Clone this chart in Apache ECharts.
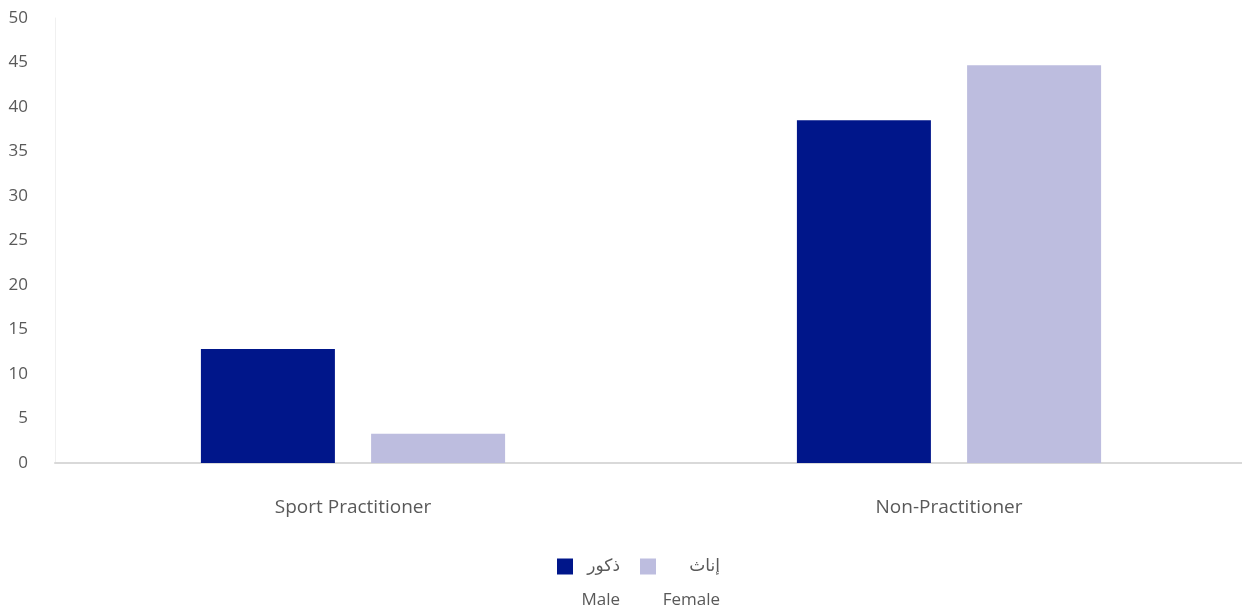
<!DOCTYPE html>
<html>
<head>
<meta charset="utf-8">
<script src="https://cdn.jsdelivr.net/npm/echarts@6/dist/echarts.min.js"></script>
<style>
html,body{margin:0;padding:0;background:#fff;}
#main{width:1242px;height:612px;}
</style>
</head>
<body>
<div id="main"></div>
<script>
const categories = ['Sport Practitioner', 'Non-Practitioner'];
const seriesNamesAr = ['ذكور', 'إناث'];
const seriesNamesEn = ['Male', 'Female'];
const maleValues = [12.8, 38.5];
const femaleValues = [3.3, 44.7];
const yTicks = { min: 0, max: 50, interval: 5 };

const colors = ['#00168A', '#BDBDDF'];
const FONT = '"Open Sans", "DejaVu Sans", sans-serif';
const textColor = '#595959';

const enMap = {};
seriesNamesAr.forEach((n, i) => enMap[n] = seriesNamesEn[i]);

const richStyles = {
  m: { width: 42, align: 'right', fontSize: 17, color: textColor, fontFamily: FONT },
  f: { width: 59, align: 'right', fontSize: 17, color: textColor, fontFamily: FONT }
};
function styleKey(name) { return name === seriesNamesAr[0] ? 'm' : 'f'; }

const chart = echarts.init(document.getElementById('main'), null, { renderer: 'canvas' });
chart.setOption({
  animation: false,
  color: colors,
  grid: { left: 55, right: -5, top: 18, bottom: 149, outerBoundsMode: 'none', containLabel: false },
  legend: [
    {
      data: seriesNamesAr,
      left: 552, top: 553,
      itemWidth: 16, itemHeight: 16, itemGap: 20,
      icon: 'rect',
      formatter: name => '{' + styleKey(name) + '|' + name + '}',
      textStyle: { fontSize: 17, color: textColor, fontFamily: FONT, rich: richStyles }
    },
    {
      data: seriesNamesAr,
      left: 552, top: 587,
      itemWidth: 16, itemHeight: 16, itemGap: 20,
      icon: 'rect',
      selectedMode: false,
      itemStyle: { opacity: 0 },
      formatter: name => '{' + styleKey(name) + '|' + enMap[name] + '}',
      textStyle: { fontSize: 17, color: textColor, fontFamily: FONT, rich: richStyles }
    }
  ],
  xAxis: {
    type: 'category',
    data: categories,
    axisLine: { show: true, lineStyle: { color: '#D9D9D9', width: 2 } },
    axisTick: { show: false },
    axisLabel: { color: textColor, fontSize: 19, fontFamily: FONT, margin: 35 }
  },
  yAxis: {
    type: 'value',
    min: yTicks.min, max: yTicks.max, interval: yTicks.interval,
    axisLine: { show: true, lineStyle: { color: '#F0F0F0', width: 1 } },
    axisTick: { show: false },
    splitLine: { show: false },
    axisLabel: { color: textColor, fontSize: 17, fontFamily: FONT, margin: 27 }
  },
  series: [
    { name: seriesNamesAr[0], type: 'bar', data: maleValues, barWidth: 134, barGap: '27%' },
    { name: seriesNamesAr[1], type: 'bar', data: femaleValues, barWidth: 134, barGap: '27%' }
  ]
});
</script>
</body>
</html>
